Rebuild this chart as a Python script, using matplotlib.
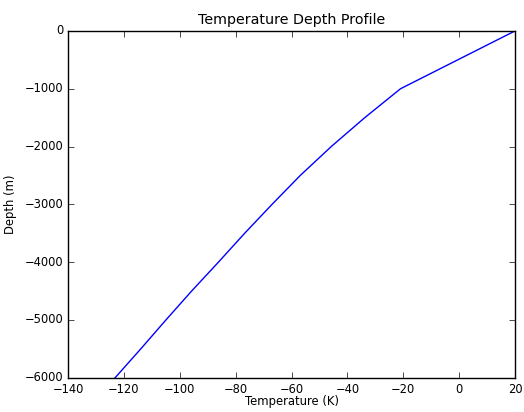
import numpy as np
from matplotlib import pyplot as plt

plt.style.use("classic")

depth = [0, -1000, -1500, -2000, -2500, -3000, -3500, -4000, -4500, -5000, -5500, -6000]
temp = [20, -21, -33.8, -45.8, -56.9, -67.0, -76.8, -86.2, -95.8, -105.0, -114.0, -123.2]

fig = plt.figure(figsize=(5.24, 4.12), dpi=100, facecolor="white")
ax = fig.add_axes([0.130, 0.083, 0.853, 0.842])

ax.plot(temp, depth, color="b", linewidth=1.0)

ax.set_xlim(-140, 20)
ax.set_ylim(-6000, 0)
ax.set_xticks(np.arange(-140, 21, 20))
ax.set_yticks(np.arange(-6000, 1, 1000))
ax.tick_params(labelsize=8.3, pad=3.5)

ax.set_title("Temperature Depth Profile", fontsize=10.3)
ax.set_xlabel("Temperature (K)", fontsize=8.4)
ax.set_ylabel("Depth (m)", fontsize=8.4)
ax.xaxis.set_label_coords(0.5, -0.050)
ax.yaxis.set_label_coords(-0.114, 0.5)

fig.savefig("out.png", dpi=100, facecolor="white")
